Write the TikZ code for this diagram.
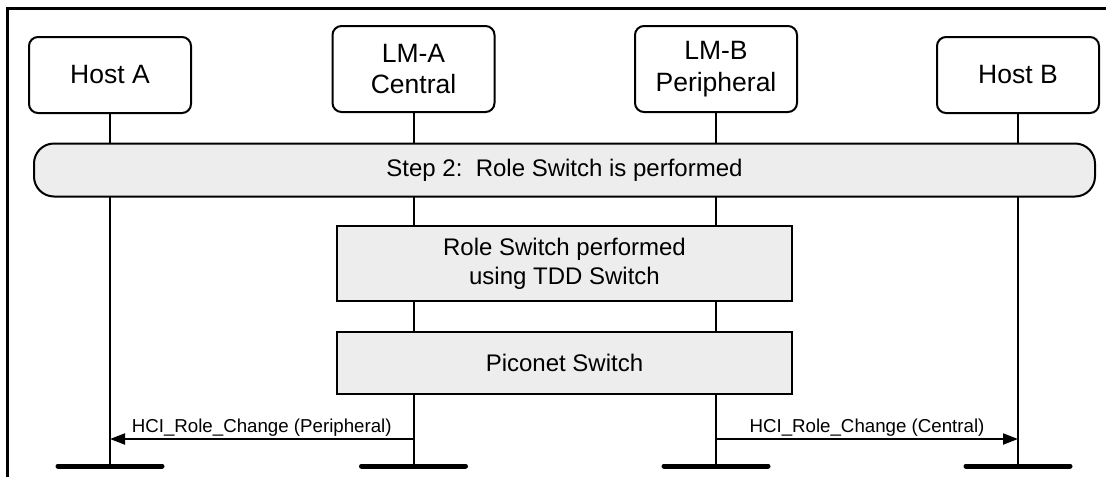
\documentclass[tikz,border=0pt]{standalone}
\usepackage{fontspec}
\setmainfont{Liberation Sans}
\usetikzlibrary{arrows.meta,backgrounds}
\definecolor{boxgray}{RGB}{237,237,237}
\begin{document}
\begin{tikzpicture}[x=1pt,y=-1pt,
  head/.style={draw, line width=2pt, rounded corners=9pt, align=center, fill=white,
    font=\fontsize{26.5}{31.8}\selectfont, minimum width=162pt, inner sep=0pt},
  stepbox/.style={draw, fill=boxgray, line width=2pt, rounded corners=20pt,
    minimum width=1061pt, minimum height=53pt, inner sep=0pt,
    font=\fontsize{24}{28.8}\selectfont},
  procbox/.style={draw, fill=boxgray, line width=2pt, minimum width=455pt,
    inner sep=0pt, align=center, font=\fontsize{24}{28.8}\selectfont},
  life/.style={line width=2pt},
  bar/.style={line width=5pt, line cap=round},
  msg/.style={line width=2pt, -{Triangle[length=15pt,width=11pt]}},
  lbl/.style={font=\fontsize{18.7}{22}\selectfont, anchor=base, yshift=7pt, inner sep=0pt},
  frameline/.style={line width=3pt}]
\useasboundingbox (0,0) rectangle (1109,477);
\draw[frameline] (7,477) -- (7,8) -- (1106,8);

\node[head, minimum height=76pt] (hostA) at (110,75) {Host A};
\node[head, minimum height=86pt] (lmA) at (413.5,69) {LM-A\\Central};
\node[head, minimum height=86pt] (lmB) at (716,69) {LM-B\\Peripheral};
\node[head, minimum height=76pt] (hostB) at (1018,75) {Host B};

\node[stepbox] (step) at (564.5,170) {Step 2:\ \ Role Switch is performed};
\node[procbox, minimum height=75pt] (rs) at (564.5,263.5) {Role Switch performed\\using TDD Switch};
\node[procbox, minimum height=62pt] (pico) at (564.5,363) {Piconet Switch};

\coordinate (endA) at (110,466);
\coordinate (endLA) at (413.5,466);
\coordinate (endLB) at (716,466);
\coordinate (endB) at (1018,466);

\begin{scope}[on background layer]
\draw[life] (hostA.south) -- (endA);
\draw[life] (lmA.south) -- (endLA);
\draw[life] (lmB.south) -- (endLB);
\draw[life] (hostB.south) -- (endB);
\end{scope}

\foreach \e in {endA,endLA,endLB,endB}
  \draw[bar] ([xshift=-52pt]\e) -- ([xshift=52pt]\e);

\coordinate (ymsg) at (0,439);
\draw[msg] (lmA.south |- ymsg) -- node[lbl]{HCI\_Role\_Change (Peripheral)} (hostA.south |- ymsg);
\draw[msg] (lmB.south |- ymsg) -- node[lbl]{HCI\_Role\_Change (Central)} (hostB.south |- ymsg);
\end{tikzpicture}
\end{document}
